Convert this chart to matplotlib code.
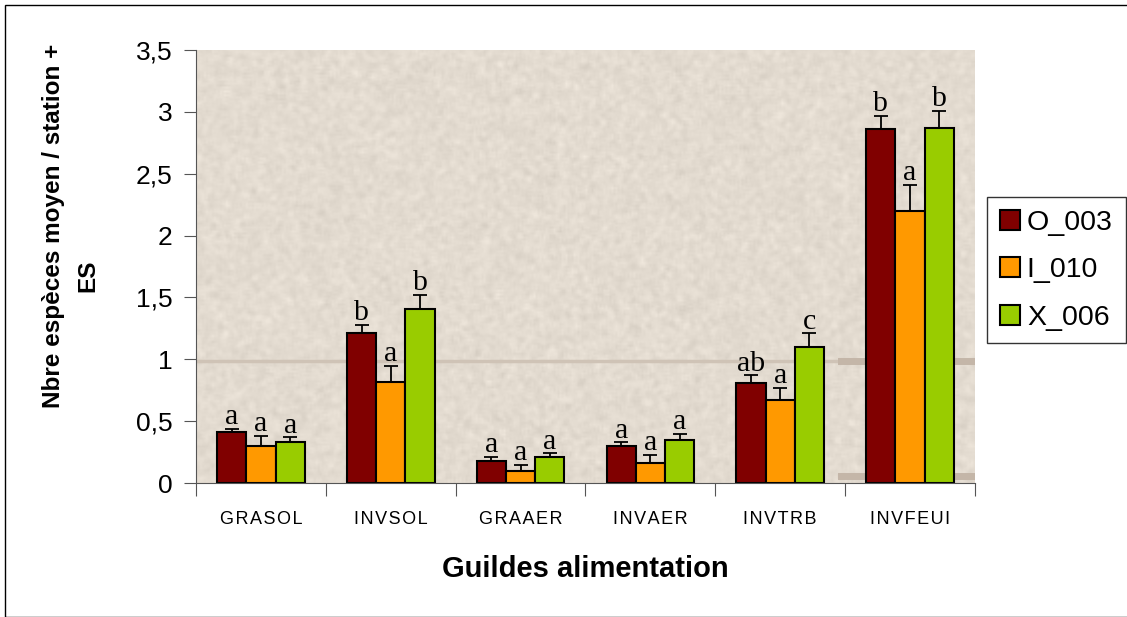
import matplotlib

matplotlib.use('Agg')
import matplotlib.pyplot as plt
from matplotlib.patches import Rectangle
import numpy as np

# Moyennes et erreurs standard par guilde
guildes = ["GRASOL", "INVSOL", "GRAAER", "INVAER", "INVTRB", "INVFEUI"]
stations = ["O_003", "I_010", "X_006"]
moyennes = {
    "O_003": [0.41, 1.21, 0.18, 0.30, 0.81, 2.86],
    "I_010": [0.30, 0.82, 0.10, 0.16, 0.67, 2.20],
    "X_006": [0.33, 1.41, 0.21, 0.35, 1.10, 2.87],
}
erreurs = {
    "O_003": [0.03, 0.07, 0.03, 0.03, 0.06, 0.11],
    "I_010": [0.08, 0.13, 0.05, 0.07, 0.10, 0.21],
    "X_006": [0.04, 0.11, 0.03, 0.05, 0.11, 0.14],
}
lettres = {
    "O_003": ["a", "b", "a", "a", "ab", "b"],
    "I_010": ["a", "a", "a", "a", "a", "a"],
    "X_006": ["a", "b", "a", "a", "c", "b"],
}
couleurs = {"O_003": "#800000", "I_010": "#FF9900", "X_006": "#99CC00"}

fig = plt.figure(figsize=(11.27, 6.17), dpi=100)
fig.patches.append(Rectangle((5 / 1127, 0), 1, 1 - 5 / 617, transform=fig.transFigure,
                             fill=False, edgecolor="black", linewidth=1))
ax = fig.add_axes([0.174, 0.217, 0.691, 0.702])

# fond texturé beige
rng = np.random.default_rng(3)
h, w = 220, 390
bruit = rng.normal(0, 1, (h, w))
k = np.ones(3) / 3
bruit = np.apply_along_axis(lambda r: np.convolve(r, k, mode="same"), 1, bruit)
bruit = np.apply_along_axis(lambda c: np.convolve(c, k, mode="same"), 0, bruit)
base = np.array([227, 219, 208]) / 255.0
tex = np.clip(base[None, None, :] + 0.04 * bruit[:, :, None], 0, 1)
ax.imshow(tex, extent=(-0.5, 5.5, 0, 3.5), aspect="auto", zorder=0, interpolation="bilinear")
ax.axhline(0.985, color="#CFC3B6", linewidth=2.5, zorder=0.5)
ax.plot([4.47, 5.5], [0.985, 0.985], color="#C4B6A8", linewidth=5, zorder=0.6)
ax.plot([4.47, 5.5], [0.06, 0.06], color="#C4B6A8", linewidth=5, zorder=0.6)

x = np.arange(len(guildes))
largeur = 0.225
for i, s in enumerate(stations):
    pos = x + (i - 1) * largeur
    ax.bar(pos, moyennes[s], width=largeur, color=couleurs[s], edgecolor="black",
           linewidth=1.5, label=s, zorder=2)
    ax.errorbar(pos, moyennes[s], yerr=[np.zeros(len(guildes)), erreurs[s]], fmt="none",
                ecolor="black", elinewidth=1.3, capsize=5, capthick=1.3, zorder=3)
    for p, m, e, l in zip(pos, moyennes[s], erreurs[s], lettres[s]):
        ax.text(p, m + e - 0.01, l, ha="center", va="bottom", fontsize=21.5,
                family="Liberation Serif", zorder=4)

ax.set_xlim(-0.5, 5.5)
ax.set_ylim(0, 3.5)
ticks_y = np.arange(0, 3.51, 0.5)
ax.set_yticks(ticks_y)
ax.set_yticklabels([f"{v:g}".replace(".", ",") for v in ticks_y],
                   fontsize=19, family="Liberation Sans")
ax.set_xticks(np.arange(-0.5, 5.6, 1))
ax.set_xticklabels([])
ax.set_xticks(x, minor=True)
ax.set_xticklabels(["\u200a".join(g) for g in guildes], minor=True, fontsize=13,
                   family=["Liberation Sans", "DejaVu Sans"])
ax.tick_params(axis="x", which="minor", length=0, pad=20)
ax.tick_params(axis="x", which="major", length=9, color="#555555")
ax.tick_params(axis="y", length=9, color="#555555", pad=8)
ax.spines["top"].set_visible(False)
ax.spines["right"].set_visible(False)
ax.spines["left"].set_color("#555555")
ax.spines["bottom"].set_color("#555555")

ax.set_xlabel("Guildes alimentation", fontsize=21, fontweight="bold",
              family="Liberation Sans")
ax.xaxis.set_label_coords(0.5, -0.165)

# titre de l'axe y sur deux lignes
fig.text(54 / 1127, 1 - 226 / 617, "Nbre espèces moyen / station +", rotation=90,
         ha="center", va="center", fontsize=17.5, fontweight="bold", family="Liberation Sans")
fig.text(88 / 1127, 1 - 276 / 617, "ES", rotation=90, ha="center", va="center",
         fontsize=17.5, fontweight="bold", family="Liberation Sans")

fig.legend(loc="upper left", bbox_to_anchor=(987 / 1127, 1 - 197 / 617),
           prop={"family": "Liberation Sans", "size": 20.5}, frameon=True, fancybox=False,
           edgecolor="black", handlelength=0.7, handleheight=0.7, handletextpad=0.25,
           labelspacing=0.75, borderpad=0.45, borderaxespad=0)

fig.savefig("out.png", dpi=100)
